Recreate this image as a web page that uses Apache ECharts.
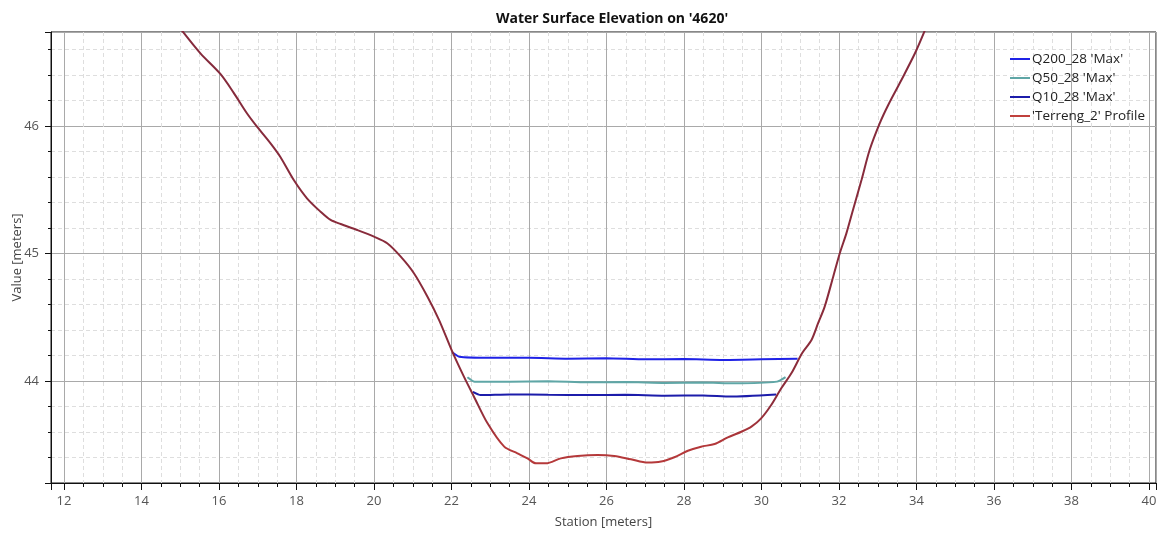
<!DOCTYPE html>
<html>
<head>
<meta charset="utf-8">
<script src="https://cdn.jsdelivr.net/npm/echarts@6/dist/echarts.min.js"></script>
<style>
html,body{margin:0;padding:0;background:#fff;}
#chart{width:1164px;height:533px;}
</style>
</head>
<body>
<div id="chart"></div>
<script>
var chartTitle = "Water Surface Elevation on '4620'";
var xAxisName = "Station [meters]";
var yAxisName = "Value [meters]";
var seriesNames = ["Q200_28 'Max'", "Q50_28 'Max'", "Q10_28 'Max'", "'Terreng_2' Profile"];

var terrainX = [15.04, 15.52, 16.03, 16.38, 16.72, 16.98, 17.33, 17.58, 17.93, 18.27, 18.62, 18.88, 19.14, 19.57, 20.00, 20.34, 20.69, 21.03, 21.38, 21.68, 22.02, 22.32, 22.58, 22.93, 23.36, 23.70, 23.96, 24.18, 24.44, 24.82, 25.25, 25.77, 26.20, 26.63, 27.06, 27.41, 27.75, 28.10, 28.44, 28.79, 29.13, 29.48, 29.74, 29.99, 30.25, 30.51, 30.77, 31.05, 31.29, 31.46, 31.63, 31.85, 32.02, 32.19, 32.36, 32.58, 32.79, 33.05, 33.27, 33.61, 33.96, 34.22];
var terrainY = [46.75, 46.57, 46.41, 46.26, 46.10, 45.995, 45.864, 45.759, 45.576, 45.433, 45.328, 45.263, 45.231, 45.184, 45.132, 45.080, 44.975, 44.845, 44.661, 44.478, 44.230, 44.034, 43.877, 43.668, 43.485, 43.433, 43.393, 43.354, 43.354, 43.393, 43.412, 43.420, 43.412, 43.386, 43.360, 43.368, 43.402, 43.453, 43.485, 43.506, 43.558, 43.602, 43.642, 43.707, 43.812, 43.943, 44.060, 44.220, 44.322, 44.453, 44.583, 44.818, 45.002, 45.158, 45.341, 45.576, 45.812, 46.021, 46.165, 46.361, 46.570, 46.753];

var q200X = [22.02, 22.20, 23.0, 24.0, 25.0, 26.0, 27.0, 28.0, 29.0, 30.0, 30.93];
var q200Y = [44.225, 44.190, 44.182, 44.182, 44.175, 44.178, 44.170, 44.172, 44.165, 44.170, 44.175];

var q50X = [22.41, 22.60, 23.5, 24.5, 25.5, 26.5, 27.5, 28.5, 29.3, 30.40, 30.62];
var q50Y = [44.030, 43.995, 43.995, 43.998, 43.990, 43.992, 43.985, 43.988, 43.982, 43.995, 44.030];

var q10X = [22.55, 22.75, 23.5, 24.5, 25.5, 26.5, 27.5, 28.5, 29.2, 30.38];
var q10Y = [43.915, 43.890, 43.895, 43.892, 43.890, 43.892, 43.885, 43.887, 43.878, 43.895];

function pairs(xs, ys) { return xs.map(function (x, i) { return [x, ys[i]]; }); }

var FONT = "'Open Sans', 'Noto Sans', sans-serif";
var chart = echarts.init(document.getElementById('chart'), null, {renderer: 'canvas'});

var majorGrid = {show: true, lineStyle: {color: '#a9a9a9', width: 1}};
var minorGrid = {show: true, lineStyle: {color: '#dedede', width: 1, type: [4, 3]}};

chart.setOption({
  animation: false,
  backgroundColor: '#ffffff',
  title: {
    text: chartTitle,
    left: 607, top: 7, textAlign: 'center',
    textStyle: {fontFamily: FONT, fontSize: 14, fontWeight: 'bold', color: '#111'}
  },
  grid: {
    left: 51, top: 32, right: 8, bottom: 50,
    outerBoundsMode: 'none', containLabel: false,
    show: true, borderColor: '#111', borderWidth: 1, backgroundColor: 'transparent'
  },
  legend: {
    orient: 'vertical', left: 1005, top: 47,
    itemWidth: 20, itemHeight: 2, itemGap: 5, icon: 'rect',
    textStyle: {fontFamily: FONT, fontSize: 13.5, color: '#222', padding: [0, 0, 0, -3]},
    data: [
      {name: seriesNames[0], itemStyle: {color: '#1f22e6'}},
      {name: seriesNames[1], itemStyle: {color: '#5fa6a6'}},
      {name: seriesNames[2], itemStyle: {color: '#1c1caa'}},
      {name: seriesNames[3], itemStyle: {color: '#c0403c'}}
    ]
  },
  xAxis: {
    type: 'value',
    min: 11.6645, max: 40.18,
    splitNumber: 14, minInterval: 2, maxInterval: 2,
    name: xAxisName, nameLocation: 'middle', nameGap: 33, nameMoveOverlap: false,
    nameTextStyle: {fontFamily: FONT, fontSize: 13, color: '#444'},
    axisLine: {show: true, lineStyle: {color: '#111', width: 1}},
    axisTick: {show: true, inside: false, length: 7, lineStyle: {color: '#111'}},
    minorTick: {show: true, splitNumber: 4, length: 4, lineStyle: {color: '#111'}},
    axisLabel: {showMinLabel: false, showMaxLabel: false, margin: 12,
      fontFamily: FONT, fontSize: 13, color: '#555'},
    splitLine: majorGrid,
    minorSplitLine: minorGrid
  },
  yAxis: {
    type: 'value',
    min: 43.2, max: 46.737,
    splitNumber: 4, minInterval: 1, maxInterval: 1,
    name: yAxisName, nameLocation: 'middle', nameGap: 27, nameRotate: 90, nameMoveOverlap: false,
    nameTextStyle: {fontFamily: FONT, fontSize: 13, color: '#444'},
    axisLine: {show: true, lineStyle: {color: '#111', width: 1}},
    axisTick: {show: true, inside: false, length: 6, lineStyle: {color: '#111'}},
    minorTick: {show: true, splitNumber: 5, length: 3, lineStyle: {color: '#111'}},
    axisLabel: {showMinLabel: false, showMaxLabel: false, margin: 12,
      fontFamily: FONT, fontSize: 13, color: '#555'},
    splitLine: majorGrid,
    minorSplitLine: minorGrid
  },
  series: [
    {name: seriesNames[0], type: 'line', data: pairs(q200X, q200Y), showSymbol: false, smooth: 0.2,
      lineStyle: {color: '#1f22e6', width: 2}, itemStyle: {color: '#1f22e6'}},
    {name: seriesNames[1], type: 'line', data: pairs(q50X, q50Y), showSymbol: false, smooth: 0.2,
      lineStyle: {color: '#5fa6a6', width: 2}, itemStyle: {color: '#5fa6a6'}},
    {name: seriesNames[2], type: 'line', data: pairs(q10X, q10Y), showSymbol: false, smooth: 0.2,
      lineStyle: {color: '#1c1caa', width: 2}, itemStyle: {color: '#1c1caa'}},
    {name: seriesNames[3], type: 'line', data: pairs(terrainX, terrainY), showSymbol: false, smooth: 0.3,
      itemStyle: {color: '#c0403c'},
      lineStyle: {width: 2, color: new echarts.graphic.LinearGradient(0, 0, 0, 1, [
        {offset: 0, color: '#842a3c'},
        {offset: 0.86, color: '#8c2c3a'},
        {offset: 0.95, color: '#b3383a'},
        {offset: 1, color: '#b5393a'}
      ])}}
  ]
});
</script>
</body>
</html>
